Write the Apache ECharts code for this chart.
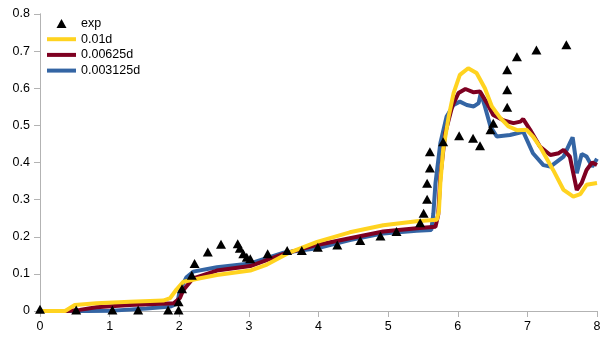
<!DOCTYPE html>
<html>
<head>
<meta charset="utf-8">
<script src="https://cdn.jsdelivr.net/npm/echarts@6/dist/echarts.min.js"></script>
<style>
  html, body { margin: 0; padding: 0; background: #fff; }
  #container { width: 605px; height: 340px; }
</style>
</head>
<body>
<div id="container"></div>
<script>
var names = ['exp', '0.01d', '0.00625d', '0.003125d'];

// experiment points
var expX = [0, 0.52, 1.04, 1.41, 1.84, 1.99, 1.99, 2.04, 2.18, 2.22, 2.41, 2.6, 2.84, 2.87, 2.92, 2.97, 3.02,
    3.27, 3.55, 3.76, 3.99, 4.27, 4.6, 4.89, 5.12, 5.46, 5.51, 5.56, 5.56, 5.6, 5.6, 5.79, 6.02, 6.22, 6.32,
    6.47, 6.51, 6.71, 6.71, 6.71, 6.85, 7.13, 7.56];
var expY = [0.005, 0.003, 0.003, 0.003, 0.003, 0.003, 0.025, 0.06, 0.096, 0.128, 0.159, 0.18, 0.181, 0.169, 0.154, 0.145, 0.141,
    0.154, 0.163, 0.163, 0.172, 0.178, 0.19, 0.202, 0.214, 0.238, 0.263, 0.301, 0.344, 0.385, 0.429, 0.456, 0.472, 0.465, 0.445,
    0.488, 0.506, 0.549, 0.596, 0.65, 0.685, 0.703, 0.717];

// 0.01d
var d1X = [0, 0.36, 0.5, 0.81, 1.29, 1.77, 1.87, 1.96, 2.06, 2.3, 2.54, 3.02, 3.26, 3.59, 3.98, 4.45, 4.93, 5.41, 5.7,
    5.73, 5.75, 5.79, 5.87, 5.94, 6.03, 6.15, 6.27, 6.39, 6.49, 6.61, 6.73, 6.85, 6.99, 7.08, 7.18, 7.37, 7.52, 7.66, 7.76, 7.85, 8.0];
var d1Y = [0, 0, 0.016, 0.021, 0.025, 0.028, 0.035, 0.058, 0.079, 0.088, 0.097, 0.109, 0.125, 0.158, 0.186, 0.212, 0.231, 0.242, 0.246,
    0.27, 0.344, 0.434, 0.524, 0.587, 0.636, 0.654, 0.641, 0.6, 0.551, 0.52, 0.497, 0.487, 0.488, 0.47, 0.443, 0.38, 0.326, 0.308, 0.315, 0.34, 0.345];

// 0.00625d
var d2X = [0, 0.38, 0.57, 0.81, 1.29, 1.92, 2.01, 2.06, 2.2, 2.54, 3.02, 3.5, 3.98, 4.45, 4.93, 5.41, 5.68,
    5.72, 5.75, 5.82, 5.92, 6.01, 6.11, 6.23, 6.32, 6.42, 6.51, 6.66, 6.8, 6.9, 6.94, 7.04, 7.18, 7.33, 7.45, 7.52, 7.61,
    7.71, 7.78, 7.85, 7.93, 8.0];
var d2Y = [0, 0, 0.003, 0.01, 0.016, 0.021, 0.035, 0.057, 0.088, 0.109, 0.121, 0.154, 0.178, 0.196, 0.214, 0.223, 0.227,
    0.26, 0.362, 0.479, 0.551, 0.587, 0.598, 0.589, 0.591, 0.56, 0.528, 0.513, 0.506, 0.51, 0.517, 0.488, 0.443, 0.42, 0.425, 0.434, 0.416,
    0.326, 0.345, 0.38, 0.4, 0.393];

// 0.003125d
var d3X = [0, 0.67, 1.05, 1.53, 1.87, 1.97, 2.01, 2.1, 2.2, 2.54, 3.02, 3.5, 3.98, 4.45, 4.93, 5.41, 5.62,
    5.65, 5.68, 5.75, 5.84, 5.94, 6.03, 6.13, 6.23, 6.3, 6.33, 6.39, 6.47, 6.56, 6.75, 6.94, 7.08, 7.23, 7.33, 7.52,
    7.61, 7.65, 7.69, 7.71, 7.78, 7.85, 7.93, 8.0];
var d3Y = [0, 0, 0.001, 0.007, 0.012, 0.02, 0.057, 0.09, 0.106, 0.118, 0.128, 0.157, 0.169, 0.191, 0.209, 0.216, 0.218,
    0.263, 0.344, 0.452, 0.524, 0.555, 0.564, 0.555, 0.551, 0.56, 0.587, 0.551, 0.497, 0.47, 0.474, 0.483, 0.425, 0.393, 0.389, 0.416,
    0.452, 0.468, 0.416, 0.371, 0.423, 0.416, 0.389, 0.41];

function pairs(xs, ys) {
    var out = [];
    for (var i = 0; i < xs.length; i++) out.push([xs[i], ys[i]]);
    return out;
}

var myChart = echarts.init(document.getElementById('container'), null, {renderer: 'canvas'});

var font = 'Liberation Sans, Arial, sans-serif';
var axisGray = '#b3b3b3';
var barIcon = 'path://M0,0 L29,0 L29,4 L0,4 Z';
var triIcon = 'path://M5,0 L10,9 L0,9 Z';

var lineSeries = function (name, data, color, z) {
    return {
        name: name,
        type: 'line',
        data: data,
        symbol: 'none',
        smooth: false,
        z: z,
        lineStyle: {color: color, width: 4},
        itemStyle: {color: color}
    };
};

var option = {
    animation: false,
    grid: {left: 40, right: 8, top: 14, bottom: 29},
    legend: {
        orient: 'vertical',
        left: 42,
        top: 11.5,
        itemWidth: 29,
        itemHeight: 9,
        itemGap: 1.7,
        symbolKeepAspect: true,
        itemStyle: {borderWidth: 0},
        lineStyle: {width: 0},
        textStyle: {fontFamily: font, fontSize: 12.5, color: '#000', lineHeight: 14},
        data: [
            {name: names[0], icon: triIcon},
            {name: names[1], icon: barIcon},
            {name: names[2], icon: barIcon},
            {name: names[3], icon: barIcon}
        ]
    },
    xAxis: {
        type: 'value',
        min: 0, max: 8, interval: 1,
        axisLine: {show: true, onZero: false, lineStyle: {color: axisGray}},
        axisTick: {show: true, length: 6, lineStyle: {color: axisGray}},
        axisLabel: {fontFamily: font, fontSize: 12.5, color: '#000', margin: 9},
        splitLine: {show: false}
    },
    yAxis: [{
        type: 'value',
        min: 0, max: 0.8, interval: 0.1,
        axisLine: {show: true, onZero: false, lineStyle: {color: axisGray}},
        axisTick: {show: true, length: 6, lineStyle: {color: axisGray}},
        axisLabel: {fontFamily: font, fontSize: 12.5, color: '#000', margin: 10},
        splitLine: {show: false}
    }, {
        type: 'value',
        position: 'right',
        min: 0, max: 0.8,
        axisLine: {show: true, lineStyle: {color: axisGray}},
        axisTick: {show: false},
        axisLabel: {show: false},
        splitLine: {show: false}
    }],
    series: [
        {
            name: names[0],
            type: 'scatter',
            data: pairs(expX, expY),
            symbol: 'triangle',
            symbolSize: [10, 9],
            z: 10,
            itemStyle: {color: '#000', opacity: 1}
        },
        lineSeries(names[1], pairs(d1X, d1Y), '#ffd320', 6),
        lineSeries(names[2], pairs(d2X, d2Y), '#7e0021', 5),
        lineSeries(names[3], pairs(d3X, d3Y), '#3465a4', 4)
    ]
};

myChart.setOption(option);
</script>
</body>
</html>
